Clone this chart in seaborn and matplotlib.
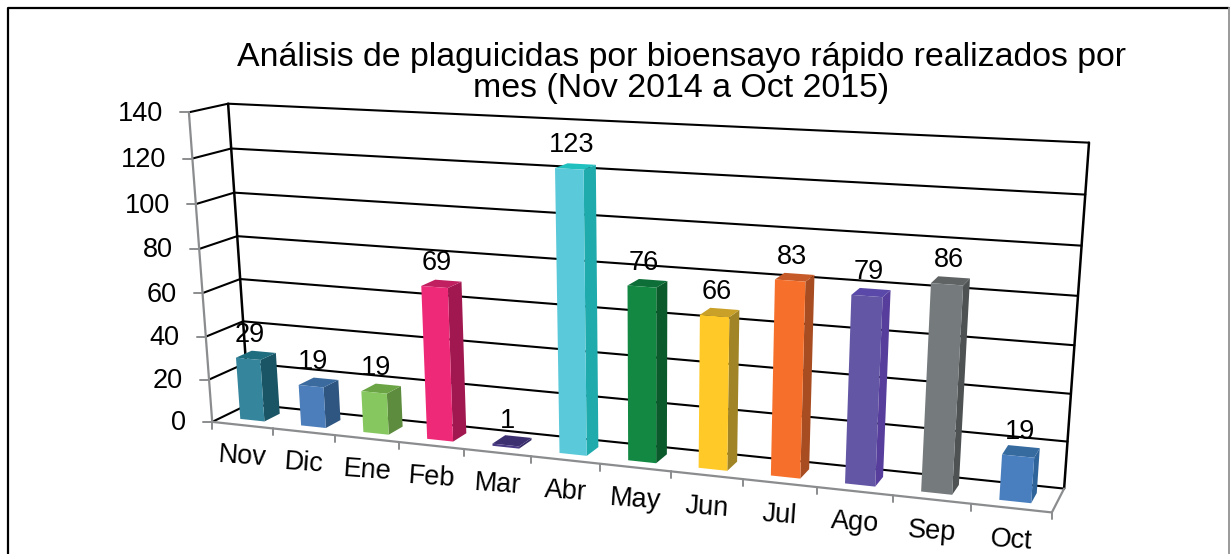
import numpy as np
import pandas as pd
import matplotlib
matplotlib.use("Agg")
import matplotlib.pyplot as plt
from matplotlib.patches import Polygon
from matplotlib.transforms import Transform, IdentityTransform
import seaborn as sns

months = ["Nov", "Dic", "Ene", "Feb", "Mar", "Abr", "May", "Jun", "Jul", "Ago", "Sep", "Oct"]
values = [29, 19, 19, 69, 1, 123, 76, 66, 83, 79, 86, 19]
y_ticks = [0, 20, 40, 60, 80, 100, 120, 140]
title = "Análisis de plaguicidas por bioensayo rápido realizados por\nmes (Nov 2014 a Oct 2015)"

front_colors = ["#35859C", "#4C7EBB", "#87C760", "#EE2A78", "#4A3A86", "#5AC9D9",
                "#128843", "#FFCA27", "#F6702C", "#6356A5", "#757A7D", "#4A7FBF"]
side_colors = ["#1A5565", "#2F5680", "#5E8C3F", "#A0184F", "#352A66", "#1FAAAC",
               "#0B5A2C", "#A08425", "#A84C22", "#583E9C", "#4E5253", "#2F649A"]
top_colors = ["#1F6E80", "#3A6A9E", "#6AA445", "#C02060", "#3D3070", "#20C0BF",
              "#0E6E37", "#C9A028", "#C65A28", "#5A49A8", "#5F6364", "#366BA0"]

W, H = 1230, 554
X0, X1 = -0.5, 11.5
Z_FRONT, Z_BACK = 0.27, 0.7

# corners of the 3d box in the picture, used to fit the camera
box = [
    (X0, 0, 0, 212, 422), (X1, 0, 0, 1052, 512), (X0, 140, 0, 189, 112), (X1, 140, 0, 1077, 155),
    (X0, 0, 1, 249, 404), (X1, 0, 1, 1064, 489), (X0, 140, 1, 228, 104), (X1, 140, 1, 1089, 142),
]
rows = []
for x, y, z, px, py in box:
    py = H - py
    rows.append([x, y, z, 1, 0, 0, 0, 0, -px * x, -px * y, -px * z, -px])
    rows.append([0, 0, 0, 0, x, y, z, 1, -py * x, -py * y, -py * z, -py])
cam = np.linalg.svd(np.array(rows, dtype=float))[2][-1].reshape(3, 4)


def proj(x, y, z):
    w = cam[2] @ [x, y, z, 1]
    return (cam[0] @ [x, y, z, 1]) / w, (cam[1] @ [x, y, z, 1]) / w


class PlaneTransform(Transform):
    input_dims = 2
    output_dims = 2
    is_affine = False

    def __init__(self, z):
        super().__init__()
        self.z = z

    def transform_non_affine(self, values):
        return np.array([proj(a, b, self.z) for a, b in np.asarray(values)])


def line(ax, pts, color="black", lw=1.5, zorder=1):
    xy = np.array([proj(*p) for p in pts])
    ax.plot(xy[:, 0], xy[:, 1], color=color, lw=lw, zorder=zorder, transform=IdentityTransform(), solid_capstyle="round")


sns.set_style("white")
plt.rcParams["font.family"] = ["Liberation Sans", "DejaVu Sans"]

fig = plt.figure(figsize=(W / 100, H / 100), dpi=100)
ax = fig.add_axes([0, 0, 1, 1])

df = pd.DataFrame({"mes": months, "n": values})
sns.barplot(data=df, x="mes", y="n", hue="mes", palette=front_colors, saturation=1,
            width=0.4, legend=False, ax=ax)
ax.set_xlim(X0, X1)
ax.set_ylim(0, 140)
ax.set_axis_off()

front_t = PlaneTransform(0)
bar_t = PlaneTransform(Z_FRONT)

# walls and gridlines
for v in y_ticks:
    line(ax, [(X0, v, 0), (X0, v, 1), (X1, v, 1)])
line(ax, [(X0, 0, 1), (X0, 140, 1)], lw=1.8)
line(ax, [(X1, 0, 1), (X1, 140, 1)], lw=1.8)

# axis lines and ticks
gray = "#8A8C8E"
line(ax, [(X0, 0, 0), (X0, 140, 0)], color=gray, lw=1.6, zorder=2)
line(ax, [(X0, 0, 0), (X1, 0, 0), (X1, 0, 1)], color=gray, lw=1.6, zorder=2)
for v in y_ticks:
    px, py = proj(X0, v, 0)
    ax.plot([px - 9, px], [py, py], color=gray, lw=1.4, zorder=2, transform=IdentityTransform())
    ax.annotate(str(v), (X0, v), xycoords=front_t, xytext=(-26, -1.5), textcoords="offset pixels",
                ha="right", va="center", fontsize=19.5, color="black")
for i in range(len(months) + 1):
    px, py = proj(X0 + i, 0, 0)
    ax.plot([px, px], [py, py - 7], color=gray, lw=1.4, zorder=2, transform=IdentityTransform())

# turn seaborn's flat bars into boxes
for i, rect in enumerate(ax.patches[:len(months)]):
    x0, x1 = rect.get_x(), rect.get_x() + rect.get_width()
    h = rect.get_height()
    rect.set_transform(bar_t)
    rect.set_zorder(4)
    rect.set_clip_on(False)
    rect.set_edgecolor("none")
    side = [proj(x1, 0, Z_FRONT), proj(x1, h, Z_FRONT), proj(x1, h, Z_BACK), proj(x1, 0, Z_BACK)]
    top = [proj(x0, h, Z_FRONT), proj(x1, h, Z_FRONT), proj(x1, h, Z_BACK), proj(x0, h, Z_BACK)]
    ax.add_patch(Polygon(side, closed=True, fc=side_colors[i], ec="none", zorder=3, transform=IdentityTransform()))
    ax.add_patch(Polygon(top, closed=True, fc=top_colors[i], ec="none", zorder=3, transform=IdentityTransform()))
    # value labels
    ax.annotate(str(values[i]), (i, h), xycoords=bar_t, xytext=(2, 24), textcoords="offset pixels",
                ha="center", va="center", fontsize=19.5, color="black", zorder=5)
    # month labels
    ax.annotate(months[i], (i, 0), xycoords=front_t, xytext=(0, -32), textcoords="offset pixels",
                ha="center", va="center", fontsize=19.5, rotation=-4, rotation_mode="anchor", color="black")

fig.text(681 / W, 1 - 73 / H, title, ha="center", va="center", fontsize=24.4, linespacing=1.0, color="black")

# outer frame
ax.plot([8, 8, 1229], [0, H - 8, H - 8], color="black", lw=1.6, transform=IdentityTransform())
ax.plot([1229, 1229], [0, H - 8], color="#9A9A9A", lw=1.4, transform=IdentityTransform())

fig.savefig("out.png", dpi=100)
